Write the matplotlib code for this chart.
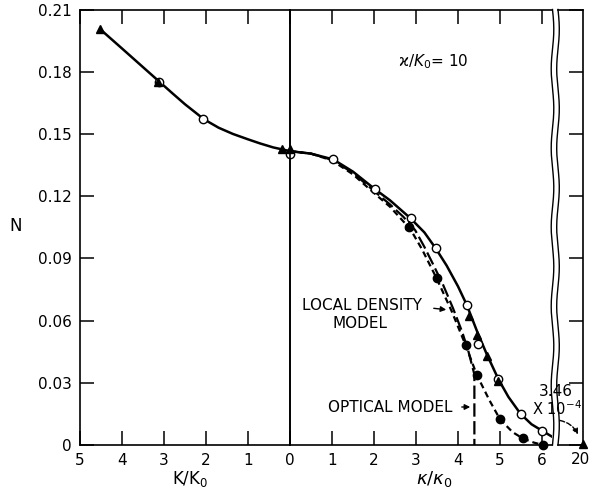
import numpy as np
import matplotlib.pyplot as plt
from matplotlib.lines import Line2D

# ---- data ----
# left panel: k/k0 (axis runs 5 -> 0)
k_curve = [4.52, 4.0, 3.5, 3.1, 2.8, 2.5, 2.2, 2.06, 1.7, 1.36, 1.0, 0.71, 0.4, 0.0]
n_k_curve = [0.2005, 0.1912, 0.1822, 0.1750, 0.1696, 0.1643, 0.1595, 0.1572,
             0.1530, 0.1500, 0.1474, 0.1454, 0.1435, 0.1417]
k_open = [3.11, 2.06, 0.0]
n_k_open = [0.1748, 0.1570, 0.1403]
k_tri = [4.52, 3.14, 0.2, 0.0]
n_k_tri = [0.2005, 0.1748, 0.1425, 0.1425]

# right panel: kappa/kappa0
x_solid = [0, 0.5, 1.03, 1.5, 2.02, 2.38, 2.87, 3.2, 3.47, 3.73, 4.0, 4.21,
           4.46, 4.68, 4.96, 5.2, 5.49, 5.75, 6.01, 6.24]
n_solid = [0.1417, 0.1405, 0.1377, 0.1318, 0.1234, 0.1180, 0.1093, 0.1025,
           0.0948, 0.0865, 0.0765, 0.0675, 0.0545, 0.0440, 0.0318, 0.0232,
           0.0150, 0.0100, 0.0068, 0.0040]
# optical model (long dash, vertical cut)
x_optical = [0, 0.5, 1.0, 1.5, 2.0, 2.38, 2.7, 2.98, 3.2, 3.41, 3.65, 3.88,
             4.1, 4.25, 4.39, 4.39]
n_optical = [0.1417, 0.1405, 0.1375, 0.1312, 0.1225, 0.1160, 0.1100, 0.1036,
             0.0955, 0.0870, 0.0770, 0.0660, 0.0545, 0.0450, 0.0340, 0.0]
# local density model (short dash)
x_local = [0, 0.5, 1.0, 1.5, 2.0, 2.38, 2.74, 2.84, 3.14, 3.49, 3.85, 4.18,
           4.45, 4.75, 5.0, 5.3, 5.54, 5.8, 6.02]
n_local = [0.1417, 0.1405, 0.1372, 0.1305, 0.1215, 0.1149, 0.1069, 0.1050,
           0.0945, 0.0804, 0.0645, 0.0482, 0.0337, 0.0215, 0.0124, 0.0062,
           0.0032, 0.0012, 0.0]
x_open = [1.03, 2.02, 2.87, 3.47, 4.21, 4.47, 4.96, 5.49, 6.01]
n_open = [0.1377, 0.1234, 0.1093, 0.0948, 0.0675, 0.0486, 0.0318, 0.0150, 0.0069]
x_filled = [2.84, 3.49, 4.18, 4.45, 5.0, 5.54, 6.02]
n_filled = [0.1050, 0.0804, 0.0482, 0.0337, 0.0124, 0.0032, 0.0]
x_tri = [2.84, 4.26, 4.46, 4.68, 4.96]
n_tri = [0.1060, 0.0620, 0.0530, 0.0430, 0.0310]
x_far = [20]
n_far = [3.46e-4]

y_ticks = [0, 0.03, 0.06, 0.09, 0.12, 0.15, 0.18, 0.21]
y_labels = ['0', '0.03', '0.06', '0.09', '0.12', '0.15', '0.18', '0.21']

# ---- layout (pixel based, 590 x 491) ----
W, H = 590, 491
bot = (H - 445) / H
top = (H - 9.5) / H
hgt = top - bot
px = 42.0  # pixels per unit on x

fig = plt.figure(figsize=(W / 100, H / 100), dpi=100)
axL = fig.add_axes([80 / W, bot, 210 / W, hgt])
axR = fig.add_axes([290 / W, bot, 262 / W, hgt])
axS = fig.add_axes([558 / W, bot, 25 / W, hgt])

lw_sp = 1.2
for ax in (axL, axR, axS):
    ax.set_ylim(0, 0.21)
    ax.patch.set_visible(False)
    for s in ax.spines.values():
        s.set_linewidth(lw_sp)

solid_kw = dict(color='black', lw=1.8)
open_kw = dict(marker='o', ms=6, mfc='white', mec='black', mew=1.0, ls='none', zorder=5)
tri_kw = dict(marker='^', ms=5.5, mfc='black', mec='black', ls='none', zorder=6)
fill_kw = dict(marker='o', ms=6, mfc='black', mec='black', ls='none', zorder=6)

# left panel
axL.set_xlim(5, 0)
axL.plot(k_curve, n_k_curve, **solid_kw)
axL.plot(k_open, n_k_open, clip_on=False, **open_kw)
axL.plot(k_tri, n_k_tri, clip_on=False, **tri_kw)
axL.set_xticks([5, 4, 3, 2, 1, 0])
axL.set_xticklabels(['5', '4', '3', '2', '1', '0'])
axL.set_yticks(y_ticks)
axL.set_yticklabels(y_labels)
axL.tick_params(axis='both', direction='in', length=10, width=1.1, labelsize=11, pad=6)
axL.tick_params(axis='x', top=True)
axL.tick_params(axis='y', right=False)

# right panel
axR.set_xlim(0, 262 / px)
axR.plot(x_solid, n_solid, **solid_kw)
axR.plot(x_optical, n_optical, color='black', lw=1.6, dashes=(6, 2))
axR.plot(x_local, n_local, color='black', lw=1.6, dashes=(2.8, 1.8))
axR.plot(x_open, n_open, **open_kw)
axR.plot(x_filled, n_filled, clip_on=False, **fill_kw)
axR.plot(x_tri, n_tri, **tri_kw)
axR.set_xticks([0, 1, 2, 3, 4, 5, 6])
axR.set_xticklabels(['', '1', '2', '3', '4', '5', '6'])
axR.set_yticks([])
axR.tick_params(axis='x', direction='in', length=10, width=1.1, labelsize=11, pad=6, top=True)
axR.spines['right'].set_visible(False)

# far stub (x = 20)
axS.set_xlim(20 - 25 / px, 20)
axS.plot(x_far, n_far, clip_on=False, **tri_kw)
axS.set_xticks([20])
axS.set_xticklabels([''])
axS.tick_params(axis='x', length=0)
axS.set_yticks(y_ticks)
axS.tick_params(axis='y', direction='in', length=10, width=1.1, left=False, right=True,
                labelleft=False, labelright=False)
axS.spines['left'].set_visible(False)

# axis break: two wavy lines
t = np.linspace(0, 1, 300)
for xb in (552.5, 558):
    xs = (xb + 1.3 * np.sin(t * 2 * np.pi * 5.5)) / W
    ys = bot + t * hgt
    fig.add_artist(Line2D(xs, ys, color='black', lw=1.0))


def fx(x):
    return x / W


def fy(y):
    return 1 - y / H


# tick label for the far point, kept inside the canvas
fig.text(fx(580), fy(460), '20', ha='center', va='center', fontsize=11)

# labels
fig.text(fx(16), fy(226), 'N', ha='center', va='center', fontsize=12)
fig.text(fx(190), fy(479), r'$\mathrm{K}/\mathrm{K}_0$', ha='center', va='center', fontsize=12)
fig.text(fx(434), fy(479), r'$\kappa/\kappa_0$', ha='center', va='center', fontsize=13)

# annotations
fig.text(fx(433), fy(62), r'ϰ/$K_0$= 10', ha='center', va='center', fontsize=11)
fig.text(fx(362), fy(306), 'LOCAL DENSITY', ha='center', va='center', fontsize=11)
fig.text(fx(360), fy(323), 'MODEL', ha='center', va='center', fontsize=11)
fig.text(fx(390), fy(408), 'OPTICAL MODEL', ha='center', va='center', fontsize=11)
fig.text(fx(556), fy(391), '3.46', ha='center', va='center', fontsize=11)
fig.text(fx(557), fy(409), r'X 10$^{-4}$', ha='center', va='center', fontsize=10.5)

arr = dict(arrowstyle='-|>', color='black', lw=1.0, mutation_scale=8)
axR.annotate('', xy=(fx(449), fy(310)), xytext=(fx(431), fy(308)),
             xycoords='figure fraction', textcoords='figure fraction', arrowprops=arr)
axR.annotate('', xy=(fx(473), fy(407)), xytext=(fx(459), fy(407)),
             xycoords='figure fraction', textcoords='figure fraction', arrowprops=arr)
axS.annotate('', xy=(fx(579), fy(437)), xytext=(fx(557), fy(420)),
             xycoords='figure fraction', textcoords='figure fraction',
             arrowprops=dict(arrowstyle='-|>', color='black', lw=1.0, ls='--',
                             mutation_scale=8, connectionstyle='arc3,rad=-0.3'))

fig.savefig('out.png', dpi=100)
